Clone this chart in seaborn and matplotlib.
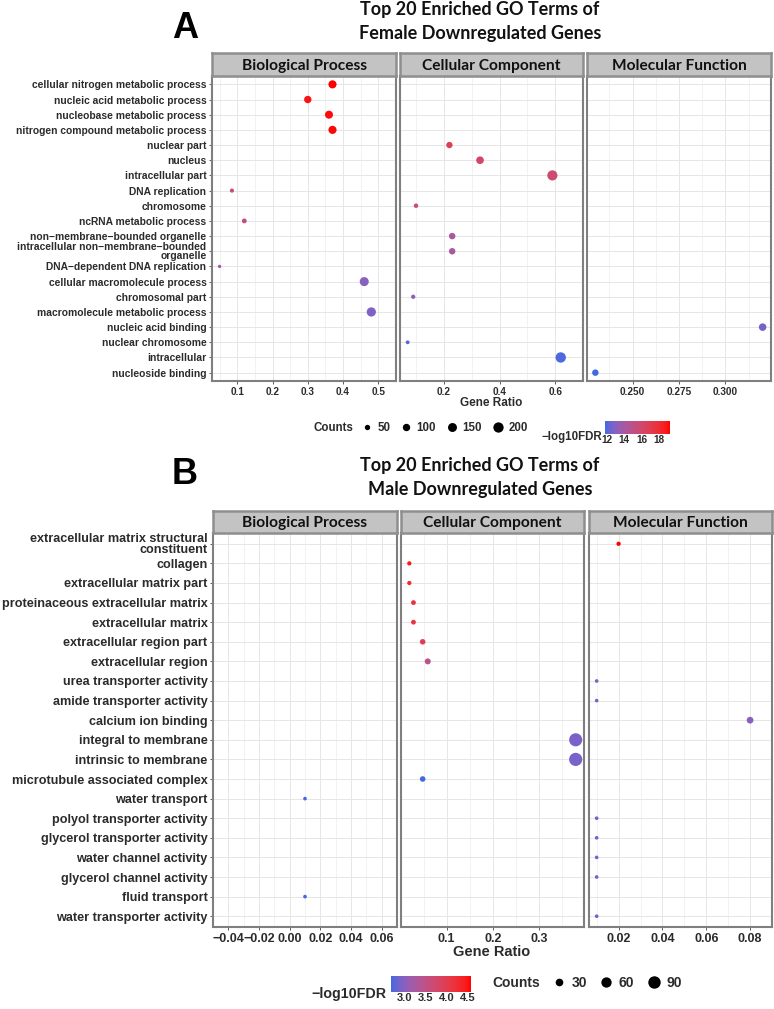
import numpy as np
import pandas as pd
import matplotlib
matplotlib.use("Agg")
import matplotlib.pyplot as plt
import seaborn as sns
from matplotlib.colors import ListedColormap, Normalize
from matplotlib.cm import ScalarMappable
from matplotlib.lines import Line2D

sns.set_theme(style="white")
plt.rcParams["font.family"] = ["Liberation Sans", "DejaVu Sans"]

# ---------------- Data: panel A (female) ----------------
a_terms = [
    "cellular nitrogen metabolic process",
    "nucleic acid metabolic process",
    "nucleobase metabolic process",
    "nitrogen compound metabolic process",
    "nuclear part",
    "nucleus",
    "intracellular part",
    "DNA replication",
    "chromosome",
    "ncRNA metabolic process",
    "non\u2212membrane\u2212bounded organelle",
    "intracellular non\u2212membrane\u2212bounded\norganelle",
    "DNA\u2212dependent DNA replication",
    "cellular macromolecule process",
    "chromosomal part",
    "macromolecule metabolic process",
    "nucleic acid binding",
    "nuclear chromosome",
    "intracellular",
    "nucleoside binding",
]
a_ont = ["BP", "BP", "BP", "BP", "CC", "CC", "CC", "BP", "CC", "BP",
         "CC", "CC", "BP", "BP", "CC", "BP", "MF", "CC", "CC", "MF"]
a_ratio = [0.37, 0.30, 0.36, 0.37, 0.22, 0.33, 0.59, 0.085, 0.10, 0.12,
           0.23, 0.23, 0.05, 0.46, 0.09, 0.48, 0.32, 0.07, 0.62, 0.23]
a_count = [123, 100, 120, 123, 72, 108, 195, 28, 33, 40,
           76, 76, 17, 153, 30, 160, 105, 23, 204, 76]
a_fdr = [19.3, 19.0, 19.1, 19.2, 16.8, 16.2, 15.8, 15.4, 15.4, 15.2,
         14.2, 14.2, 13.8, 13.0, 13.2, 12.8, 12.6, 12.0, 11.9, 11.75]

# ---------------- Data: panel B (male) ----------------
b_terms = [
    "extracellular matrix structural\nconstituent",
    "collagen",
    "extracellular matrix part",
    "proteinaceous extracellular matrix",
    "extracellular matrix",
    "extracellular region part",
    "extracellular region",
    "urea transporter activity",
    "amide transporter activity",
    "calcium ion binding",
    "integral to membrane",
    "intrinsic to membrane",
    "microtubule associated complex",
    "water transport",
    "polyol transporter activity",
    "glycerol transporter activity",
    "water channel activity",
    "glycerol channel activity",
    "fluid transport",
    "water transporter activity",
]
b_ont = ["MF", "CC", "CC", "CC", "CC", "CC", "CC", "MF", "MF", "MF",
         "CC", "CC", "CC", "BP", "MF", "MF", "MF", "MF", "BP", "MF"]
b_ratio = [0.02, 0.019, 0.019, 0.028, 0.028, 0.048, 0.059, 0.01, 0.01, 0.08,
           0.38, 0.38, 0.048, 0.01, 0.01, 0.01, 0.01, 0.01, 0.01, 0.01]
b_count = [5, 5, 5, 8, 8, 13, 16, 2, 2, 22,
           101, 102, 13, 2, 2, 2, 2, 2, 2, 2]
b_fdr = [4.57, 4.45, 4.25, 4.15, 4.15, 3.95, 3.45, 2.95, 2.95, 3.0,
         2.9, 2.9, 2.68, 2.67, 2.85, 2.85, 2.85, 2.85, 2.67, 2.85]

facet_names = ["Biological Process", "Cellular Component", "Molecular Function"]
facet_keys = ["BP", "CC", "MF"]

a_xticks = [[0.1, 0.2, 0.3, 0.4, 0.5], [0.2, 0.4, 0.6], [0.25, 0.275, 0.30]]
a_xticklabels = [["0.1", "0.2", "0.3", "0.4", "0.5"], ["0.2", "0.4", "0.6"],
                 ["0.250", "0.275", "0.300"]]
b_xticks = [[-0.04, -0.02, 0.0, 0.02, 0.04, 0.06], [0.1, 0.2, 0.3],
            [0.02, 0.04, 0.06, 0.08]]
b_xticklabels = [["\u22120.04", "\u22120.02", "0.00", "0.02", "0.04", "0.06"],
                 ["0.1", "0.2", "0.3"], ["0.02", "0.04", "0.06", "0.08"]]

a_size_breaks = [50, 100, 150, 200]
b_size_breaks = [30, 60, 90]
a_cbar_ticks = [12, 14, 16, 18]
b_cbar_ticks = [3.0, 3.5, 4.0, 4.5]


# ---------------- colour map: royalblue -> red interpolated in Lab ----------------
def _srgb_to_lab(rgb):
    rgb = np.asarray(rgb, float)
    lin = np.where(rgb <= 0.04045, rgb / 12.92, ((rgb + 0.055) / 1.055) ** 2.4)
    M = np.array([[0.4124, 0.3576, 0.1805],
                  [0.2126, 0.7152, 0.0722],
                  [0.0193, 0.1192, 0.9505]])
    xyz = M @ lin / np.array([0.95047, 1.0, 1.08883])
    f = np.where(xyz > 0.008856, np.cbrt(xyz), 7.787 * xyz + 16 / 116)
    return np.array([116 * f[1] - 16, 500 * (f[0] - f[1]), 200 * (f[1] - f[2])])


def _lab_to_srgb(lab):
    L, a, b = lab
    fy = (L + 16) / 116
    fx = fy + a / 500
    fz = fy - b / 200
    f = np.array([fx, fy, fz])
    xyz = np.where(f ** 3 > 0.008856, f ** 3, (f - 16 / 116) / 7.787)
    xyz = xyz * np.array([0.95047, 1.0, 1.08883])
    Minv = np.array([[3.2406, -1.5372, -0.4986],
                     [-0.9689, 1.8758, 0.0415],
                     [0.0557, -0.2040, 1.0570]])
    lin = Minv @ xyz
    lin = np.clip(lin, 0, 1)
    rgb = np.where(lin <= 0.0031308, 12.92 * lin, 1.055 * lin ** (1 / 2.4) - 0.055)
    return np.clip(rgb, 0, 1)


low = _srgb_to_lab(np.array([65, 105, 225]) / 255)
high = _srgb_to_lab(np.array([255, 0, 0]) / 255)
cmap = ListedColormap([_lab_to_srgb(low + (high - low) * t) for t in np.linspace(0, 1, 256)])

W, H = 774, 1009
fig = plt.figure(figsize=(W / 100, H / 100), dpi=100)
fig.patch.set_facecolor("white")


def px_axes(x0, y0, x1, y1):
    return fig.add_axes([x0 / W, 1 - y1 / H, (x1 - x0) / W, (y1 - y0) / H])


TXT = "#2b2b2b"


def draw_block(terms, ont, ratio, count, fdr, panels_x, strip_y0, strip_y1, panel_y1,
               xticks, xticklabels, sizes, ylab_fs, xlab_fs, strip_fs):
    df = pd.DataFrame({"term": terms, "ont": ont, "ratio": ratio,
                       "count": count, "fdr": fdr})
    df["ypos"] = df["term"].map({t: i for i, t in enumerate(terms)})
    norm = Normalize(min(fdr), max(fdr))
    size_norm = (min(count), max(count))
    n = len(terms)
    for k, (key, name) in enumerate(zip(facet_keys, facet_names)):
        x0, x1 = panels_x[k]
        ax = px_axes(x0, strip_y1, x1, panel_y1)
        sub = df[df["ont"] == key]
        sns.scatterplot(data=sub, x="ratio", y="ypos", hue="fdr", size="count",
                        palette=cmap, hue_norm=norm, sizes=sizes, size_norm=size_norm,
                        linewidth=0, legend=False, ax=ax, zorder=3)
        lo, hi = sub["ratio"].min(), sub["ratio"].max()
        span = hi - lo
        pad = 0.05 * span if span > 0 else 0.05
        ax.set_xlim(lo - pad, hi + pad)
        ax.set_ylim(n - 1 + 0.55, -0.55)
        ax.set_xticks(xticks[k])
        ax.set_xticklabels(xticklabels[k])
        mt = np.array(xticks[k])
        step = mt[1] - mt[0]
        minors = np.arange(mt[0] - step / 2, mt[-1] + step, step)
        ax.set_xticks(minors, minor=True)
        ax.set_yticks(range(n))
        if k == 0:
            ax.set_yticklabels(terms, fontsize=ylab_fs, fontweight="bold", color=TXT,
                               linespacing=0.9)
            ax.tick_params(axis="y", which="major", left=True, length=2.5, width=0.6,
                           color="#444444", pad=1.5)
        else:
            ax.set_yticklabels([])
            ax.tick_params(axis="y", left=False)
        ax.tick_params(axis="x", which="major", bottom=True, length=2.5, width=0.6,
                       color="#444444", labelsize=xlab_fs, labelcolor=TXT, pad=1.5)
        ax.tick_params(axis="x", which="minor", bottom=False)
        for lab in ax.get_xticklabels():
            lab.set_fontweight("bold")
        ax.grid(True, which="major", color="#E6E6E6", lw=0.7)
        ax.grid(True, which="minor", axis="x", color="#EDEDED", lw=0.5)
        ax.set_axisbelow(True)
        ax.set_xlabel("")
        ax.set_ylabel("")
        for sp in ax.spines.values():
            sp.set_color("#7F7F7F")
            sp.set_linewidth(1.5)
        # facet strip
        sax = px_axes(x0, strip_y0, x1, strip_y1)
        sax.set_facecolor("#C3C3C3")
        sax.set_xticks([])
        sax.set_yticks([])
        for sp in sax.spines.values():
            sp.set_color("#8E8E8E")
            sp.set_linewidth(1.8)
        sax.text(0.5, 0.45, name, transform=sax.transAxes, ha="center", va="center",
                 fontsize=strip_fs, fontweight="bold", family=["Lato", "DejaVu Sans"],
                 color="#111111")
    return norm, size_norm


def size_legend(breaks, sizes, size_norm, x_label, y, x_handles, fs, colsp):
    smin, smax = sizes
    nmin, nmax = size_norm
    handles = []
    for v in breaks:
        s = smin + (smax - smin) * (v - nmin) / (nmax - nmin)
        handles.append(Line2D([], [], marker="o", ls="", color="black",
                              markersize=np.sqrt(s), markeredgewidth=0))
    fig.text(x_label / W, 1 - y / H, "Counts", ha="left", va="center",
             fontsize=fs, fontweight="bold", color=TXT)
    fig.legend(handles, [str(b) for b in breaks], ncol=len(breaks), frameon=False,
               loc="center left", bbox_to_anchor=(x_handles / W, 1 - y / H),
               borderaxespad=0, borderpad=0, handlelength=1.0, handletextpad=0.4,
               columnspacing=colsp, prop={"size": fs, "weight": "bold"},
               labelcolor=TXT)


def color_bar(norm, ticks, rect, label_x, label_y, fs, lfs):
    cax = px_axes(*rect)
    cb = fig.colorbar(ScalarMappable(norm=norm, cmap=cmap), cax=cax,
                      orientation="horizontal")
    cb.set_ticks(ticks)
    cb.set_ticklabels([("%g" % t) if float(t).is_integer() and t > 5 else ("%.1f" % t)
                       for t in ticks])
    cb.outline.set_visible(False)
    cax.tick_params(direction="in", length=3, width=0.8, color="white",
                    labelsize=fs, labelcolor=TXT, pad=1, top=True)
    for lab in cax.get_xticklabels():
        lab.set_fontweight("bold")
    fig.text(label_x / W, 1 - label_y / H, "\u2212log10FDR", ha="right", va="center",
             fontsize=lfs, fontweight="bold", color=TXT)


TITLE_FONT = ["Lato", "DejaVu Sans"]

# ================= Panel A =================
fig.text(185 / W, 1 - 28 / H, "A", ha="center", va="center", fontsize=26,
         fontweight="bold", color="black")
fig.text(480 / W, 1 - 10 / H, "Top 20 Enriched GO Terms of", ha="center", va="center",
         fontsize=13, fontweight="bold", family=TITLE_FONT, color="#111111")
fig.text(480 / W, 1 - 33 / H, "Female Downregulated Genes", ha="center", va="center",
         fontsize=13, fontweight="bold", family=TITLE_FONT, color="#111111")

a_sizes = (6, 56)
a_norm, a_snorm = draw_block(a_terms, a_ont, a_ratio, a_count, a_fdr,
                             [(212, 396), (400, 583), (587, 771)], 53, 76, 381,
                             a_xticks, a_xticklabels, a_sizes, 7.4, 7.2, 11.2)
fig.text(491.5 / W, 1 - 403 / H, "Gene Ratio", ha="center", va="center",
         fontsize=8.5, fontweight="bold", color=TXT)
size_legend(a_size_breaks, a_sizes, a_snorm, 314, 428, 361, 8.3, 0.9)
color_bar(a_norm, a_cbar_ticks, (605, 421, 670, 434), 602, 437, 7.2, 8.3)

# ================= Panel B =================
fig.text(185 / W, 1 - 474 / H, "B", ha="center", va="center", fontsize=26,
         fontweight="bold", color="black")
fig.text(480 / W, 1 - 466 / H, "Top 20 Enriched GO Terms of", ha="center", va="center",
         fontsize=13, fontweight="bold", family=TITLE_FONT, color="#111111")
fig.text(480 / W, 1 - 490 / H, "Male Downregulated Genes", ha="center", va="center",
         fontsize=13, fontweight="bold", family=TITLE_FONT, color="#111111")

b_sizes = (7, 90)
b_norm, b_snorm = draw_block(b_terms, b_ont, b_ratio, b_count, b_fdr,
                             [(213, 397), (401, 584), (589, 772)], 511, 533, 927,
                             b_xticks, b_xticklabels, b_sizes, 9.1, 9.0, 11.2)
fig.text(492 / W, 1 - 952 / H, "Gene Ratio", ha="center", va="center",
         fontsize=10.5, fontweight="bold", color=TXT)
size_legend(b_size_breaks, b_sizes, b_snorm, 492, 983, 552, 10, 0.9)
color_bar(b_norm, b_cbar_ticks, (391, 976, 471, 992), 387, 994, 8.0, 10.3)

fig.savefig("out.png", dpi=100, facecolor="white")
